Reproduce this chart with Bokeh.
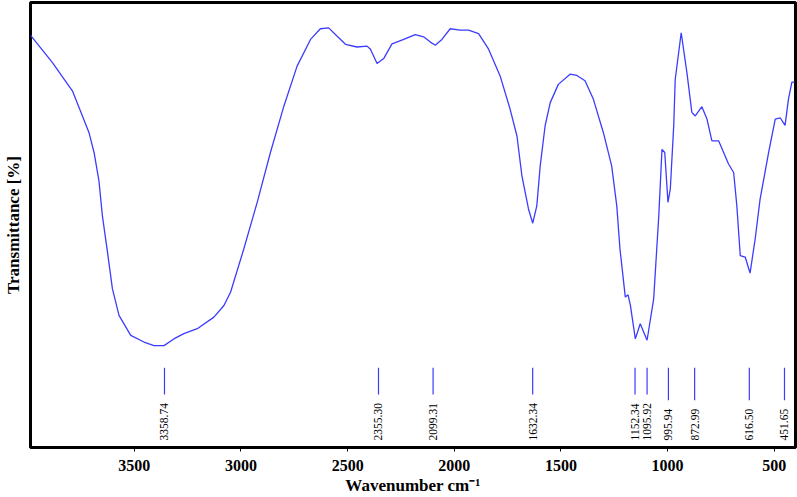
from bokeh.plotting import figure
from bokeh.models import Range1d, FixedTicker, ColumnDataSource
from bokeh.core.properties import value
from bokeh.embed import file_html
from bokeh.resources import INLINE

# ---- data ----
wavenumber = [3986, 3978, 3884, 3790, 3713, 3689, 3666, 3650, 3626, 3603, 3572, 3517, 3455, 3408, 3361,
              3315, 3268, 3205, 3127, 3080, 3049, 2987, 2924, 2862, 2799, 2737, 2674, 2628, 2589,
              2549, 2510, 2456, 2409, 2393, 2362, 2331, 2292, 2237, 2183, 2144, 2112, 2089, 2058,
              2019, 1972, 1933, 1886, 1839, 1785, 1738, 1706, 1683, 1652, 1632, 1613, 1597, 1574,
              1550, 1512, 1457, 1425, 1387, 1348, 1301, 1262, 1238, 1223, 1198, 1185, 1174, 1151,
              1128, 1096, 1065, 1041, 1026, 1013, 998, 987, 971, 964, 936, 909, 886, 870, 839, 815,
              792, 760, 714, 690, 675, 659, 636, 613, 589, 566, 526, 495, 472, 449, 433, 417, 405]
transmittance = [92.6, 92.1, 86.5, 80.1, 70.8, 66.3, 59.9, 52.1, 43.9, 35.7, 29.7, 25.2, 23.7, 22.9, 22.9,
                 24.4, 25.6, 26.7, 29.3, 31.9, 34.9, 44.6, 55.1, 66.3, 76.7, 85.7, 91.7, 94.1, 94.3,
                 92.4, 90.6, 90.0, 90.2, 89.5, 86.3, 87.4, 90.7, 91.7, 92.8, 92.3, 91.1, 90.4, 91.7,
                 94.1, 93.8, 93.8, 93.0, 89.5, 83.5, 76.0, 70.0, 61.1, 53.6, 50.4, 54.3, 63.3, 72.3,
                 77.5, 81.6, 83.9, 83.6, 82.4, 78.3, 70.8, 63.3, 54.3, 44.6, 33.8, 34.3, 31.9, 24.4,
                 27.8, 24.1, 33.4, 52.1, 67.0, 66.3, 55.1, 58.1, 72.3, 82.7, 93.2, 84.2, 75.3, 74.5,
                 76.6, 73.8, 68.9, 68.9, 63.7, 61.8, 54.3, 43.1, 42.8, 39.2, 46.9, 55.8, 66.3, 73.8,
                 74.1, 72.4, 78.3, 82.1, 82.1]
peaks = [3358.74, 2355.30, 2099.31, 1632.34, 1152.34, 1095.92, 995.94, 872.99, 616.50, 451.65]
peak_labels = ["%.2f" % v for v in peaks]
x_ticks = [3500, 3000, 2500, 2000, 1500, 1000, 500]

# ---- styling constants ----
BLUE = "#3c3cff"
SERIF = "Liberation Serif"
MARK_TOP = 17.9
LABEL_BASE = 1.6
mark_bottom = [LABEL_BASE + 1.2 + 1.3 * len(s) for s in peak_labels]

p = figure(width=797, height=497, output_backend="svg", toolbar_location=None,
           x_range=Range1d(3987, 400), y_range=Range1d(0, 100))
p.min_border_left = 0
p.min_border_top = 2
p.min_border_right = 2
p.min_border_bottom = 0
p.background_fill_color = "white"
p.border_fill_color = "white"
p.outline_line_color = "black"
p.outline_line_width = 3
p.grid.visible = False

p.line(wavenumber, transmittance, line_color=BLUE, line_width=1.3)

src = ColumnDataSource(dict(x=peaks, top=[MARK_TOP] * len(peaks), bot=mark_bottom,
                            lbl=peak_labels, base=[LABEL_BASE] * len(peaks)))
p.segment(x0="x", y0="top", x1="x", y1="bot", source=src, line_color=BLUE, line_width=1.2)
p.text(x="x", y="base", text="lbl", source=src, angle=1.5707963, text_align="left",
       text_baseline="middle", text_font=value(SERIF), text_font_size="11.5px", text_color="black")

xa = p.xaxis[0]
xa.ticker = FixedTicker(ticks=x_ticks)
xa.axis_line_color = None
xa.major_tick_out = 4
xa.major_tick_in = 0
xa.minor_tick_out = 0
xa.minor_tick_in = 0
xa.major_tick_line_color = "black"
xa.major_label_standoff = 8
xa.major_label_text_font = SERIF
xa.major_label_text_font_style = "bold"
xa.major_label_text_font_size = "16px"
xa.major_label_text_color = "black"
xa.axis_label = "Wavenumber cm\u207b\u00b9"
xa.axis_label_standoff = 2
xa.axis_label_text_font = SERIF
xa.axis_label_text_font_style = "bold"
xa.axis_label_text_font_size = "17px"
xa.axis_label_text_color = "black"

ya = p.yaxis[0]
ya.ticker = FixedTicker(ticks=[])
ya.axis_line_color = None
ya.major_tick_out = 0
ya.major_tick_in = 0
ya.minor_tick_out = 0
ya.minor_tick_in = 0
ya.major_label_standoff = 0
ya.major_label_text_font_size = "0px"
ya.axis_label = "Transmittance [%]"
ya.axis_label_standoff = 8
ya.axis_label_text_font = SERIF
ya.axis_label_text_font_style = "bold"
ya.axis_label_text_font_size = "17px"
ya.axis_label_text_color = "black"

open("out.html", "w").write(file_html(p, INLINE))
